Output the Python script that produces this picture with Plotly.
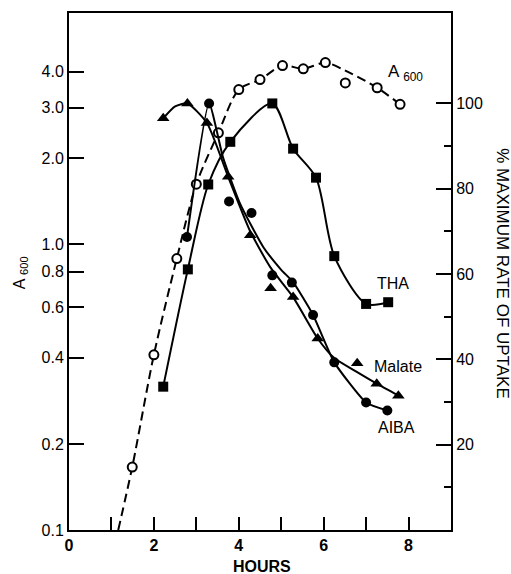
import plotly.graph_objects as go

# ---- data ----
# A600 (left, log axis) - open circles
a600_x = [1.49, 2.0, 2.54, 3.0, 3.52, 4.0, 4.5, 5.03, 5.52, 6.04, 6.51, 7.26, 7.8]
a600_y = [0.166, 0.41, 0.89, 1.62, 2.45, 3.47, 3.76, 4.21, 4.10, 4.31, 3.66, 3.52, 3.08]
# drawn (fitted) dashed growth curve
a600_curve_x = [1.16, 1.49, 2.0, 2.54, 3.0, 3.52, 4.0, 4.5, 5.03, 5.52, 6.04, 6.5, 7.26, 7.8]
a600_curve_y = [0.1, 0.166, 0.41, 0.89, 1.62, 2.45, 3.47, 3.76, 4.21, 4.10, 4.31, 4.05, 3.52, 3.08]

# % maximum rate of uptake (right axis)
tha_x = [2.22, 2.8, 3.28, 3.8, 4.79, 5.28, 5.82, 6.25, 7.0, 7.52]
tha_y = [33.6, 61.1, 81.0, 91.0, 100.0, 89.4, 82.6, 64.2, 53.0, 53.4]

malate_x = [2.22, 2.79, 3.25, 3.75, 4.27, 4.75, 5.28, 5.86, 6.79, 7.25, 7.76]
malate_y = [96.5, 100.0, 95.4, 82.8, 69.1, 56.7, 54.6, 44.9, 39.1, 34.3, 31.5]
malate_curve_x = [2.22, 2.5, 2.79, 3.25, 3.75, 4.27, 4.75, 5.28, 5.86, 6.25, 6.79, 7.25, 7.76]
malate_curve_y = [96.5, 99.3, 100.0, 95.4, 82.8, 70.0, 61.5, 54.6, 44.9, 40.3, 37.0, 34.3, 31.5]

aiba_x = [2.78, 3.3, 3.77, 4.3, 4.79, 5.25, 5.75, 6.25, 7.0, 7.5]
aiba_y = [68.7, 100.0, 77.0, 74.3, 59.7, 58.0, 50.4, 39.3, 29.9, 28.0]
aiba_curve_x = [2.78, 3.3, 3.63, 4.03, 4.58, 5.0, 5.28, 5.75, 6.25, 7.0, 7.5]
aiba_curve_y = [68.7, 100.0, 87.3, 76.5, 66.3, 61.0, 58.1, 50.4, 39.3, 29.9, 28.0]

x_tickvals = [0, 2, 4, 6, 8]
x_minor = [1, 3, 5, 7]
y_tickvals = [0.1, 0.2, 0.4, 0.6, 0.8, 1.0, 2.0, 3.0, 4.0]
y_ticktext = ['0.1', '0.2', '0.4', '0.6', '0.8', '1.0', '2.0', '3.0', '4.0']
y2_tickvals = [20, 40, 60, 80, 100]
y2_minor = [10, 30, 50, 70, 90]

FONT = "Liberation Sans, Arial, Helvetica, sans-serif"
BLK = "black"

fig = go.Figure()

# curves
fig.add_trace(go.Scatter(x=a600_curve_x, y=a600_curve_y, mode='lines',
                         line=dict(color=BLK, width=2, dash='9px,5px', shape='spline', smoothing=0.8),
                         yaxis='y', showlegend=False, hoverinfo='skip'))
fig.add_trace(go.Scatter(x=tha_x, y=tha_y, mode='lines',
                         line=dict(color=BLK, width=2, shape='spline', smoothing=0.8),
                         yaxis='y2', showlegend=False, hoverinfo='skip'))
fig.add_trace(go.Scatter(x=malate_curve_x, y=malate_curve_y, mode='lines',
                         line=dict(color=BLK, width=2, shape='spline', smoothing=0.6),
                         yaxis='y2', showlegend=False, hoverinfo='skip'))
fig.add_trace(go.Scatter(x=aiba_curve_x, y=aiba_curve_y, mode='lines',
                         line=dict(color=BLK, width=2, shape='spline', smoothing=0.5),
                         yaxis='y2', showlegend=False, hoverinfo='skip'))

# markers
fig.add_trace(go.Scatter(x=a600_x, y=a600_y, mode='markers', yaxis='y', name='A600',
                         marker=dict(symbol='circle', size=9, color='white',
                                     line=dict(color=BLK, width=2)), showlegend=False))
fig.add_trace(go.Scatter(x=tha_x, y=tha_y, mode='markers', yaxis='y2', name='THA',
                         marker=dict(symbol='square', size=10, color=BLK), showlegend=False))
fig.add_trace(go.Scatter(x=malate_x, y=malate_y, mode='markers', yaxis='y2', name='Malate',
                         marker=dict(symbol='triangle-up', size=11, color=BLK), showlegend=False))
fig.add_trace(go.Scatter(x=aiba_x, y=aiba_y, mode='markers', yaxis='y2', name='AIBA',
                         marker=dict(symbol='circle', size=10, color=BLK), showlegend=False))

fig.update_layout(
    width=511, height=574,
    margin=dict(l=69, r=60, t=11, b=44),
    paper_bgcolor='white', plot_bgcolor='white',
    font=dict(family=FONT, color=BLK, size=16),
    xaxis=dict(range=[0, 9], tickvals=x_tickvals,
               ticks='inside', ticklen=13, tickwidth=2, tickcolor=BLK,
               minor=dict(tickvals=x_minor, ticks='inside', ticklen=13, tickwidth=2, tickcolor=BLK),
               showline=True, linewidth=2, linecolor=BLK, mirror=True,
               showgrid=False, zeroline=False,
               tickfont=dict(family=FONT, size=16, weight='bold')),
    yaxis=dict(type='log', range=[-1, 0.808], tickvals=y_tickvals, ticktext=y_ticktext,
               ticks='inside', ticklen=15, tickwidth=2, tickcolor=BLK,
               showline=True, linewidth=2, linecolor=BLK, mirror=True,
               showgrid=False, zeroline=False,
               tickfont=dict(family=FONT, size=16)),
    yaxis2=dict(overlaying='y', side='right', range=[0, 121.2], tickvals=y2_tickvals,
                ticks='inside', ticklen=15, tickwidth=2, tickcolor=BLK,
                minor=dict(tickvals=y2_minor, ticks='inside', ticklen=7, tickwidth=2, tickcolor=BLK),
                showline=True, linewidth=2, linecolor=BLK,
                showgrid=False, zeroline=False,
                tickfont=dict(family=FONT, size=16)),
    annotations=[
        dict(text='A <sub>600</sub>', xref='x', yref='paper', x=7.48, y=0.884,
             xanchor='left', yanchor='middle', showarrow=False, font=dict(size=17)),
        dict(text='THA', xref='x', yref='paper', x=7.22, y=0.476,
             xanchor='left', yanchor='middle', showarrow=False, font=dict(size=16)),
        dict(text='Malate', xref='x', yref='paper', x=7.15, y=0.316,
             xanchor='left', yanchor='middle', showarrow=False, font=dict(size=16)),
        dict(text='AIBA', xref='x', yref='paper', x=7.24, y=0.198,
             xanchor='left', yanchor='middle', showarrow=False, font=dict(size=16)),
        dict(text='HOURS', xref='paper', yref='paper', x=0.505, y=-0.071,
             xanchor='center', yanchor='middle', showarrow=False,
             font=dict(size=16, weight='bold')),
        dict(text='A <sub>600</sub>', xref='paper', yref='paper', x=-0.128, y=0.497,
             xanchor='center', yanchor='middle', showarrow=False, textangle=-90,
             font=dict(size=16)),
        dict(text='% MAXIMUM RATE OF UPTAKE', xref='paper', yref='paper', x=1.136, y=0.495,
             xanchor='center', yanchor='middle', showarrow=False, textangle=90,
             font=dict(size=17)),
    ],
)

fig.write_html("out.html")
